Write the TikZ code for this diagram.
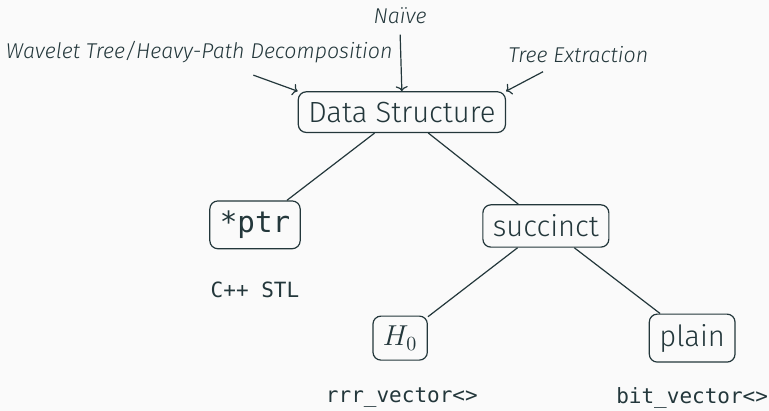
\documentclass[tikz,border=0pt]{standalone}
\usepackage{fontspec}
\setmainfont{Fira Sans Light}[ItalicFont={Fira Sans Light Italic}]
\setmonofont{DejaVu Sans Mono}
\usepackage{tikz}
\usetikzlibrary{arrows.meta}

\definecolor{mDark}{HTML}{23373B}
\definecolor{mBg}{HTML}{FAFAFA}
\tikzset{
	dsbox/.style={draw=mDark, text=mDark, rounded corners=4pt, inner sep=5pt, line width=0.6pt, font=\fontsize{14.6}{16}\selectfont},
	hint/.style={text=mDark, font=\fontsize{10.7}{12}\selectfont\itshape},
	impl/.style={text=mDark, font=\fontsize{10.5}{12}\selectfont\ttfamily},
	edge/.style={draw=mDark, line width=0.6pt},
}

\begin{document}
\begin{tikzpicture}
		\fill[mBg] (0,0) rectangle (13.51,7.22);
		\useasboundingbox (0,0) rectangle (13.51,7.22);

		\node[dsbox] (ds) at (7.06,5.25) {Data Structure};
		\node[dsbox] (ptr) at (4.48,3.27) {\ttfamily *ptr};
		\node[dsbox] (succ) at (9.59,3.25) {succinct};
		\node[dsbox] (hzero) at (7.03,1.28) {$H_0$};
		\node[dsbox] (plain) at (12.16,1.28) {plain};

		\node[impl] (stl) at (4.48,2.13) {C++ STL};
		\node[impl] (rrr) at (7.06,0.23) {rrr\_vector<>};
		\node[impl] (bitv) at (12.16,0.23) {bit\_vector<>};

		\node[hint] (naive) at (7.03,6.94) {Naïve};
		\node[hint] (wt) at (3.50,6.31) {Wavelet Tree/Heavy-Path Decomposition};
		\node[hint] (te) at (10.16,6.26) {Tree Extraction};

		% arrow starts
		\coordinate (wtend) at (4.45,5.90);
		\coordinate (naiveend) at (7.03,6.61);
		\coordinate (teend) at (9.54,5.96);

		\draw[edge, -{To[length=2.5pt,width=6pt]}] (wtend) -- (ds.north west);
		\draw[edge, -{To[length=2.5pt,width=6pt]}] (naiveend) -- (ds.north);
		\draw[edge, -{To[length=2.5pt,width=6pt]}] (teend) -- (ds.north east);

		\draw[edge] (ds) -- (ptr);
		\draw[edge] (ds) -- (succ);
		\draw[edge] (succ) -- (hzero);
		\draw[edge] (succ) -- (plain);
	\end{tikzpicture}
\end{document}
